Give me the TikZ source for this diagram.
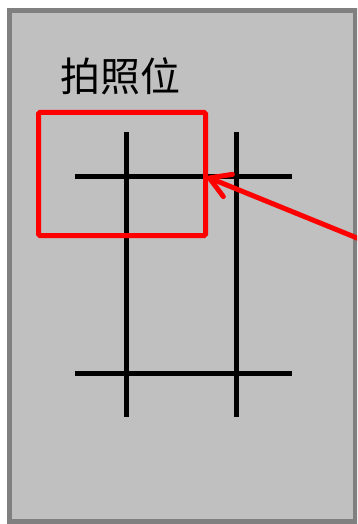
\documentclass[tikz,border=0pt]{standalone}
\usepackage{fontspec}
\newfontfamily\cjk{Noto Sans CJK SC}
\usetikzlibrary{arrows.meta}
\definecolor{panelfill}{HTML}{C0C0C0}
\definecolor{panelborder}{HTML}{808080}
\tikzset{
  gridline/.style={black,line width=5pt},
  redbox/.style={red,line width=5pt,rounded corners=1.5pt},
  redarrow/.style={red,line width=5pt,line cap=round,line join=round,-{Straight Barb[length=20pt,width=24pt,line join=round,line cap=round]}},
}
\begin{document}
\begin{tikzpicture}[x=1pt,y=-1pt]
\useasboundingbox (0,0) rectangle (357,524);
\begin{scope}
\clip (0,0) rectangle (357,524);
\draw[panelborder,fill=panelfill,line width=5pt] (9.5,10.5) rectangle (355.5,521.5);
\node[font=\cjk\fontsize{40}{40}\selectfont,inner sep=0pt] (title) at (120,76) {拍照位};
\draw[gridline] (126.7,132) -- (126.7,416.5);
\draw[gridline] (236.5,132) -- (236.5,416.5);
\draw[gridline] (75,176.7) -- (292,176.7);
\draw[gridline] (75,373.5) -- (292,373.5);
\draw[redbox] (38.5,112.5) rectangle (205.5,235.5);
\coordinate (tail) at (362,240);
\coordinate (tip) at (207,177);
\draw[redarrow] (tail) -- (tip);
\end{scope}
\end{tikzpicture}
\end{document}
